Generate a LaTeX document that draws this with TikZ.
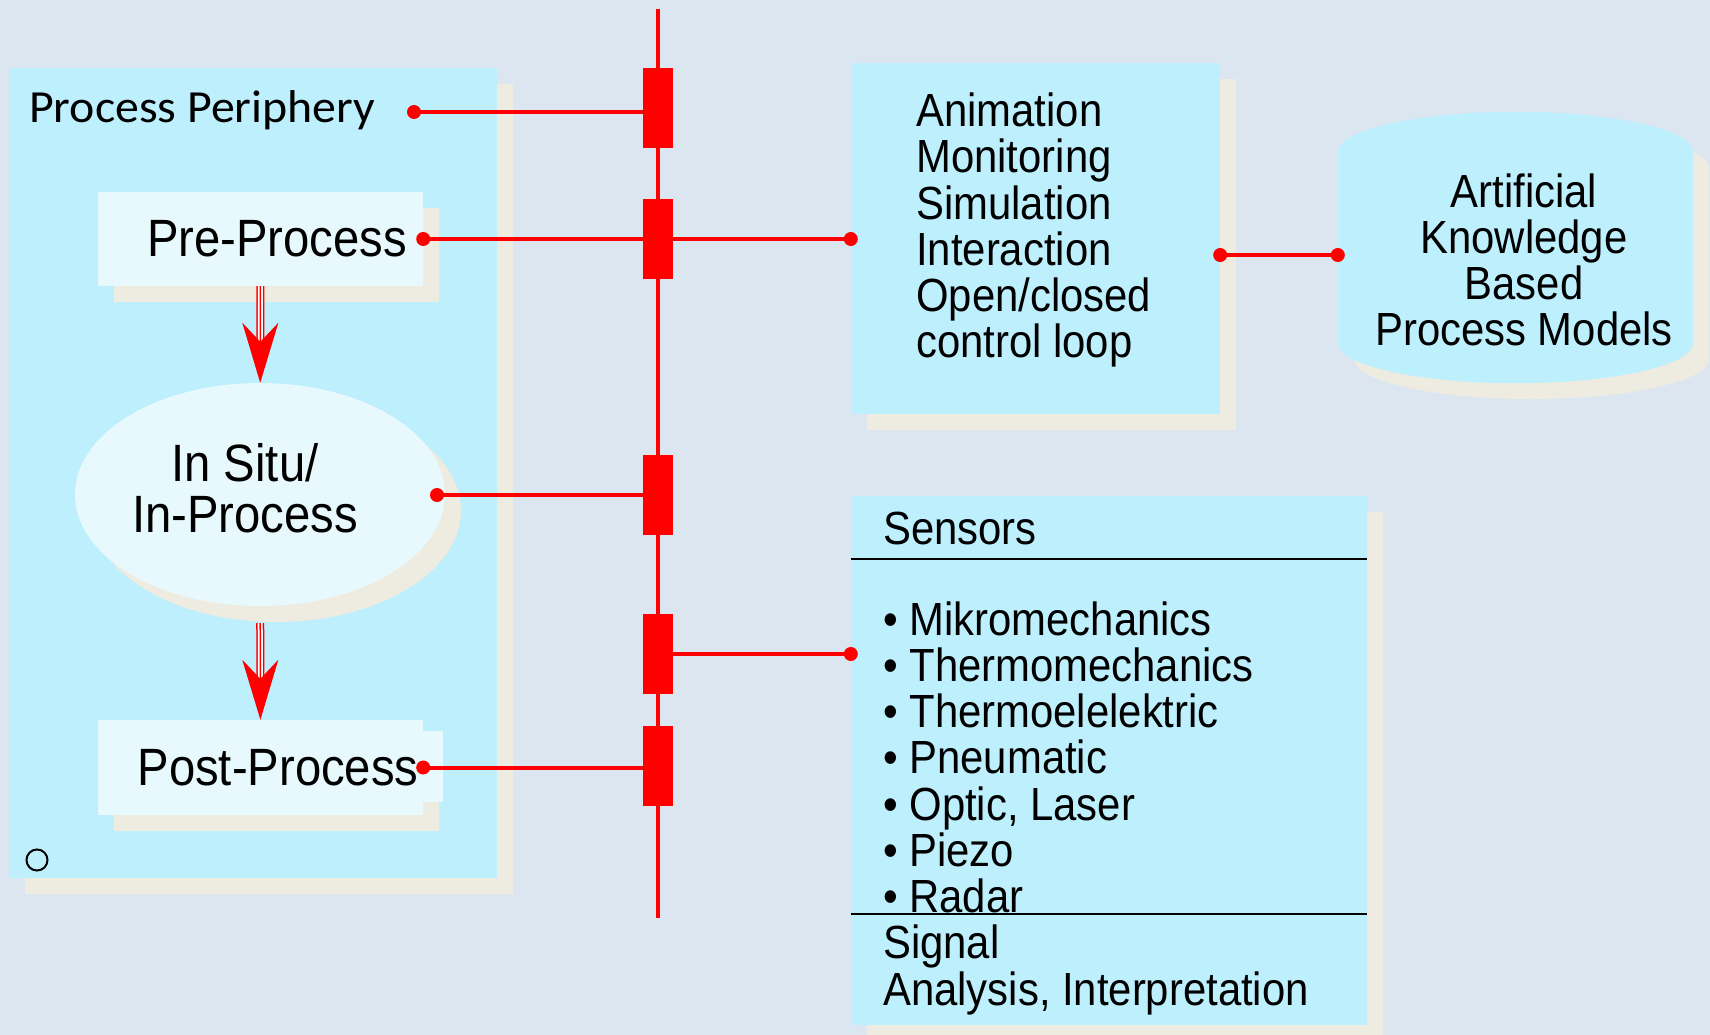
\documentclass[tikz,border=0pt]{standalone}
\usepackage{fontspec}
\newfontfamily\armfont{Liberation Sans}[FakeStretch=0.9]
\newfontfamily\calfont{Carlito}[FakeStretch=1.04]
\usepackage{tikz}
\usetikzlibrary{shapes.geometric, arrows.meta, positioning, calc, shadows}
\definecolor{bgblue}{RGB}{220,230,241}
\definecolor{panelcyan}{RGB}{189,239,253}
\definecolor{stagecyan}{RGB}{232,249,253}
\definecolor{shadebeige}{RGB}{238,236,224}
\tikzset{
    boxshadow/.style={copy shadow={shadow xshift=16pt, shadow yshift=-16pt, fill=shadebeige, draw=none}},
    panel/.style={rectangle, fill=panelcyan, inner sep=0pt, boxshadow},
    stagebox/.style={rectangle, fill=stagecyan, inner sep=0pt, minimum width=325pt,
        minimum height=94pt, boxshadow},
    tapbox/.style={rectangle, fill=red, inner sep=0pt, minimum width=30pt, minimum height=80pt},
    link/.style={draw=red, line width=4pt},
    flowshaft/.style={draw=red, line width=1.5pt, double=white, double distance=5pt, shorten >=40pt},
    flowtip/.style={draw=red, line width=1.5pt, -{Stealth[length=60pt, width=36pt, inset=19pt]}},
    itemtext/.style={font=\armfont\fontsize{46.5}{46}\selectfont, inner sep=0pt, anchor=base west},
    stagetext/.style={font=\armfont\fontsize{52.5}{51.5}\selectfont, inner sep=0pt, align=center},
    storelid/.style={x radius=177.5pt, y radius=40pt},
}

\begin{document}
\begin{tikzpicture}[x=1pt, y=-1pt]
    \useasboundingbox (0,0) rectangle (1710,1035);
    \fill[bgblue] (0,0) rectangle (1710,1035);

    % Left column: process periphery
    \node[panel, minimum width=488pt, minimum height=810pt] (periphery) at (253,473) {};
    \node[font=\calfont\fontsize{46}{50}\selectfont, inner sep=0pt, anchor=base west]
        (peritext) at (29,123) {Process Periphery};
    \coordinate (peridot) at (414,112);

    \node[stagebox] (pre) at (260.5,239) {};
    \node[stagetext, anchor=base] (pretext) at (277,256) {Pre-Process};

    \node[ellipse, fill=stagecyan, inner sep=0pt, minimum width=370pt, minimum height=223pt,
          boxshadow] (insitu) at (260,494.5) {};
    \node[stagetext] (insitutext) at (245,488) {In Situ/\\In-Process};
    \coordinate (insitudot) at (437,495);

    \node[stagebox, minimum height=95pt] (post) at (260.5,767.5) {};
    \fill[stagecyan] ([yshift=-11pt]post.north east) rectangle ([xshift=20pt, yshift=13pt]post.south east);
    \node[stagetext, anchor=base] (posttext) at (278,785) {Post-Process};

    \node[circle, draw, line width=2pt, minimum size=21pt, inner sep=0pt] (mark) at (37,860) {};

    % Flow arrows between the stages
    \draw[flowshaft] (pre) -- (insitu);
    \draw[flowtip] (pre) -- (insitu);
    \draw[flowshaft, shorten <=17pt] (insitu) -- (post);
    \draw[flowtip, shorten <=17pt] (insitu) -- (post);

    % Right column
    \node[panel, minimum width=369pt, minimum height=351pt] (anim) at (1035.5,238.5) {};
    \foreach \word [count=\i from 0] in {Animation, Monitoring, Simulation, Interaction, Open/closed, control loop}
        \node[itemtext] (anim\i) at (916,126.5+46.25*\i) {\word};

    % Knowledge store drawn as a cylinder
    \coordinate (storemid) at (1515.5,247.5);
    \fill[shadebeige] ([xshift=16pt, yshift=-16pt]storemid |- 0,152) ellipse [storelid];
    \fill[shadebeige] ([xshift=16pt, yshift=-16pt]storemid |- 0,343) ellipse [storelid];
    \node[panel, minimum width=355pt, minimum height=191pt] (store) at (storemid) {};
    \fill[panelcyan] (store.north) ellipse [storelid];
    \fill[panelcyan] (store.south) ellipse [storelid];
    \node[itemtext, anchor=center, align=center] (storetext) at (1524,260)
        {Artificial\\Knowledge\\Based\\Process Models};
    \coordinate (storedot) at (store.west |- 0,255);

    \node[panel, minimum width=516pt, minimum height=529pt] (sensors) at (1109,760.5) {};
    \node[itemtext] (senshead) at (883,544) {Sensors};
    \draw[line width=2pt] (sensors.west |- 0,559) -- (sensors.east |- 0,559);
    \foreach \word [count=\i from 0] in {Mikromechanics, Thermomechanics, Thermoelelektric,
            Pneumatic, {Optic, Laser}, Piezo, Radar}
        \node[itemtext] (sens\i) at (883,635+46.3*\i) {\textbullet\ \word};
    \draw[line width=2pt] (sensors.west |- 0,914) -- (sensors.east |- 0,914);
    \node[itemtext] (signal) at (883,958) {Signal};
    \node[itemtext] (analysis) at (883,1005) {Analysis, Interpretation};

    % Bus with taps
    \coordinate (bustop) at (658,9);
    \coordinate (busbottom) at (658,918);
    \draw[link] (bustop) -- (busbottom);
    \foreach \y [count=\i] in {108,239,495,654,766}
        \node[tapbox] (tap\i) at (658,\y) {};

    \draw[link] (peridot) -- (peridot -| tap1.west);
    \draw[link] (pre.east) -- (pre.east -| anim.west);
    \draw[link] (insitudot) -- (insitudot -| tap3.west);
    \draw[link] (tap4.east) -- (tap4.east -| sensors.west);
    \draw[link] (post.east) -- (post.east -| tap5.west);
    \draw[link] (anim.east |- storedot) -- (storedot);

    \foreach \p in {(peridot), (pre.east), (pre.east -| anim.west), (insitudot), (post.east),
            (tap4.east -| sensors.west), (anim.east |- storedot), (storedot)}
        \fill[red] \p circle (7pt);
\end{tikzpicture}
\end{document}
